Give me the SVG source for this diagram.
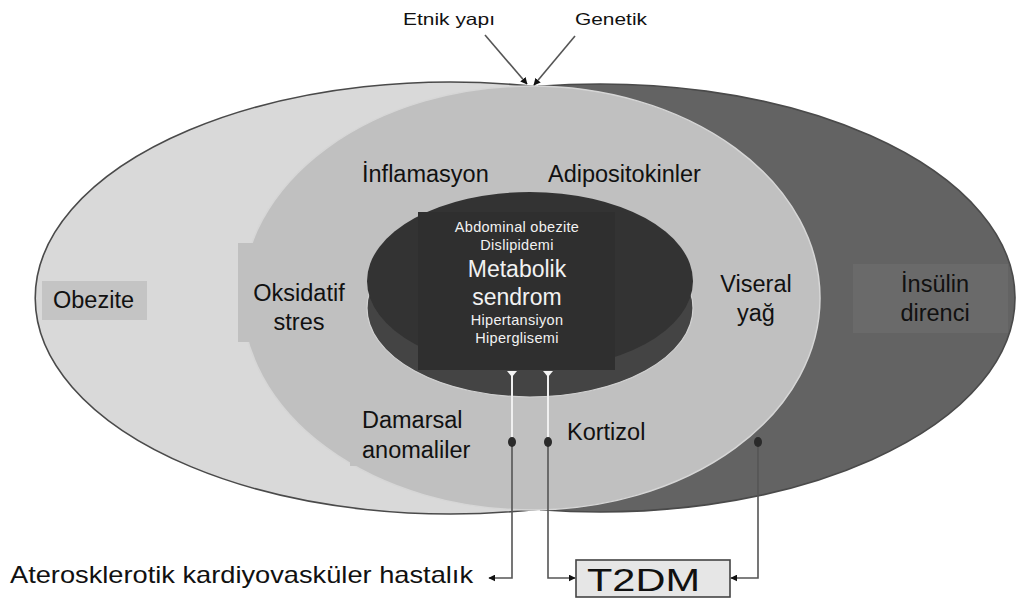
<svg xmlns="http://www.w3.org/2000/svg" width="1017" height="600" viewBox="0 0 1017 600">
  <style>
    text { font-family: "Liberation Sans", Arial, sans-serif; fill: #111; }
    .lbl { font-size: 23.5px; }
    .mid { text-anchor: middle; }
    .wt { fill: #f2f2f2; text-anchor: middle; }
    .sm { font-size: 14.5px; }
    .big { font-size: 23px; }
    .outline { fill: none; stroke: #4a4a4a; stroke-width: 1.6; }
    .conn { fill: none; stroke: #555; stroke-width: 1.6; }
    .wline { fill: none; stroke: #f0f0f0; stroke-width: 2; }
    .dot { fill: #2a2a2a; }
  </style>
  <defs>
    <marker id="ah" viewBox="0 0 10 10" refX="9" refY="5" markerWidth="7" markerHeight="7" markerUnits="userSpaceOnUse" orient="auto">
      <path d="M0,0 L10,5 L0,10 Z" fill="#111"/>
    </marker>
  </defs>
  <rect width="1017" height="600" fill="#ffffff"/>

  <!-- Obezite (light outer ellipse) -->
  <g id="obezite">
    <ellipse cx="450" cy="298" rx="415" ry="216" fill="#d9d9d9"/>
    <path class="outline" d="M538,86.9 A415,216 0 1,0 540,508.9"/>
  </g>

  <!-- İnsülin direnci (dark outer ellipse) -->
  <g id="insulin-direnci">
    <path d="M538,86.4 A415,214 0 1,1 540,509.75 Z" fill="#636363"/>
    <path class="outline" d="M538,86.4 A415,214 0 1,1 540,509.75"/>
    <rect x="853" y="264" width="155" height="69" fill="#6a6a6a"/>
    <text class="lbl mid" x="935" y="292">İnsülin</text>
    <text class="lbl mid" x="935" y="321">direnci</text>
  </g>

  <!-- middle ring -->
  <g id="ara-halka">
    <ellipse cx="531" cy="298" rx="289" ry="212" fill="#c0c0c0" stroke="#d6d6d6" stroke-width="1.5"/>
  </g>

  <g id="obezite-label">
    <rect x="42" y="281" width="105" height="39" fill="#c4c4c4"/>
    <text class="lbl" x="53" y="308">Obezite</text>
  </g>

  <g id="oksidatif-stres">
    <rect x="238" y="243" width="120" height="99" fill="#c0c0c0"/>
    <text class="lbl mid" x="299" y="301">Oksidatif</text>
    <text class="lbl mid" x="299" y="330">stres</text>
  </g>

  <g id="damarsal-anomaliler">
    <rect x="350" y="395" width="130" height="71" fill="#c0c0c0"/>
    <text class="lbl" x="362" y="428">Damarsal</text>
    <text class="lbl" x="362" y="458">anomaliler</text>
  </g>

  <g id="inflamasyon">
    <text class="lbl" x="362" y="182">İnflamasyon</text>
  </g>

  <g id="adipositokinler">
    <text class="lbl" x="548" y="182">Adipositokinler</text>
  </g>

  <g id="viseral-yag">
    <text class="lbl mid" x="756" y="292">Viseral</text>
    <text class="lbl mid" x="756" y="321">yağ</text>
  </g>

  <g id="kortizol">
    <text class="lbl" x="567" y="440">Kortizol</text>
  </g>

  <!-- Metabolik sendrom disc -->
  <g id="metabolik-sendrom">
    <ellipse cx="530" cy="308" rx="163" ry="89" fill="#444444" stroke="#d2d2d2" stroke-width="1.2"/>
    <ellipse cx="530" cy="281" rx="163" ry="89" fill="#333333"/>
    <rect x="418" y="212" width="197" height="158" fill="#2f2f2f"/>
    <text class="wt sm" x="517" y="232" letter-spacing="0.3">Abdominal obezite</text>
    <text class="wt sm" x="517" y="250" letter-spacing="0.3">Dislipidemi</text>
    <text class="wt big" x="517" y="277">Metabolik</text>
    <text class="wt big" x="517" y="305">sendrom</text>
    <text class="wt sm" x="517" y="325" letter-spacing="0.3">Hipertansiyon</text>
    <text class="wt sm" x="517" y="343" letter-spacing="0.3">Hiperglisemi</text>
  </g>

  <g id="etnik-yapi">
    <text x="403" y="25" font-size="16.5" textLength="92" lengthAdjust="spacingAndGlyphs">Etnik yapı</text>
  </g>
  <g id="genetik">
    <text x="575" y="25" font-size="16.5" textLength="72" lengthAdjust="spacingAndGlyphs">Genetik</text>
  </g>

  <g id="aterosklerotik">
    <text x="10" y="583" font-size="24" textLength="463" lengthAdjust="spacingAndGlyphs">Aterosklerotik kardiyovasküler hastalık</text>
  </g>

  <g id="t2dm">
    <rect x="576" y="560" width="154" height="37" fill="#e6e6e6" stroke="#444" stroke-width="1.6"/>
    <text x="587" y="591" font-size="32" textLength="113" lengthAdjust="spacingAndGlyphs">T2DM</text>
  </g>

  <!-- connectors -->
  <g id="connectors">
    <line class="conn" x1="485" y1="35" x2="527" y2="84" marker-end="url(#ah)"/>
    <line class="conn" x1="575" y1="36" x2="534" y2="85" marker-end="url(#ah)"/>

    <line class="wline" x1="512" y1="374" x2="512" y2="442"/>
    <line class="wline" x1="548" y1="374" x2="548" y2="442"/>
    <path d="M507,371 L517,371 L512,377 Z" fill="#f4f4f4"/>
    <path d="M543,371 L553,371 L548,377 Z" fill="#f4f4f4"/>

    <path class="conn" d="M512,442 L512,578 L489,578" marker-end="url(#ah)"/>
    <path class="conn" d="M548,442 L548,578 L575,578" marker-end="url(#ah)"/>
    <path class="conn" d="M758,442 L758,578 L731,578" marker-end="url(#ah)"/>

    <ellipse class="dot" cx="512" cy="442" rx="4" ry="5"/>
    <ellipse class="dot" cx="548" cy="442" rx="4" ry="5"/>
    <ellipse class="dot" cx="758" cy="442" rx="4" ry="5"/>
  </g>
</svg>
